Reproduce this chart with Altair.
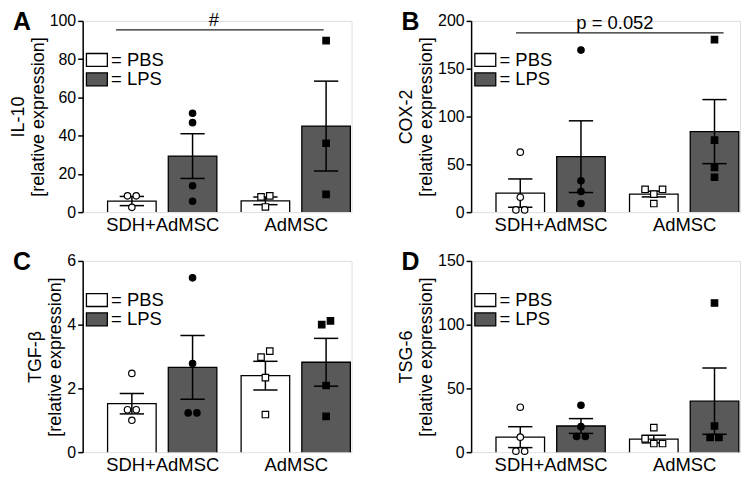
import altair as alt
import pandas as pd

FONT = "Liberation Sans"

# ---------------- data ----------------
groups = ["SDH+AdMSC", "AdMSC"]
treatments = ["PBS", "LPS"]
panel_ids = ["A", "B", "C", "D"]
genes = ["IL-10", "COX-2", "TGF-β", "TSG-6"]
y_max = [100, 200, 6, 150]
y_ticks = [[0, 20, 40, 60, 80, 100], [0, 50, 100, 150, 200], [0, 2, 4, 6], [0, 50, 100, 150]]

# bar order: SDH+AdMSC/PBS, SDH+AdMSC/LPS, AdMSC/PBS, AdMSC/LPS
means_A = [5.8, 29.3, 5.9, 45.0]
means_B = [19.9, 58.0, 18.9, 84.2]
means_C = [1.52, 2.66, 2.40, 2.82]
means_D = [11.75, 20.5, 10.25, 40.0]

sem_A = [2.4, 11.7, 2.0, 23.5]
sem_B = [14.8, 37.5, 3.0, 33.5]
sem_C = [0.32, 1.0, 0.45, 0.75]
sem_D = [8.2, 5.8, 3.0, 26.0]

pts_A = [[8.5, 8.5, 2.5], [51.7, 46.8, 13.8, 5.7], [8.5, 8.0, 2.7], [89.7, 36.0, 9.3]]
pts_B = [[62.7, 15.6, 2.3, 2.3], [169.5, 32.8, 21.6, 9.0], [23.9, 23.9, 18.9, 9.0], [180.4, 75.3, 46.8, 36.5]]
pts_C = [[2.47, 1.33, 1.33, 1.0], [5.47, 2.78, 1.23, 1.23], [3.17, 2.98, 2.34, 1.18], [4.12, 4.0, 2.09, 1.12]]
pts_D = [[35.25, 11.75, 0.75, 0.75], [36.75, 20.0, 12.25, 12.25], [19.25, 10.5, 6.75, 6.75], [117.0, 20.5, 11.5, 11.5]]

means = [means_A, means_B, means_C, means_D]
sems = [sem_A, sem_B, sem_C, sem_D]
points = [pts_A, pts_B, pts_C, pts_D]

sig_label = {"A": "#", "B": "p = 0.052"}
sig_level = {"A": 95.3, "B": 187.4}
sig_span = {"A": (-0.26, 3.16), "B": (-0.07, 3.35)}
sig_text_x = {"A": 1.35, "B": 1.56}

# ---------------- layout ----------------
W, H = 270, 192
slot = [0.0, 1.0, 2.2, 3.2]          # bar centres in x units
group_centre = [0.5, 2.7]
x_domain = [-0.81, 3.62]
BAR_HALF = 0.4
CAP_HALF = 0.2
JIT = 0.144


def jitter(vals, ymax):
    px = [v / ymax * H for v in vals]
    order = sorted(range(len(vals)), key=lambda i: -vals[i])
    clusters = []
    for i in order:
        if clusters and abs(px[clusters[-1][-1]] - px[i]) < 7.5:
            clusters[-1].append(i)
        else:
            clusters.append([i])
    off = [0.0] * len(vals)
    for c in clusters:
        n = len(c)
        if n == 2:
            pat = [0.5, -0.5]
        elif n == 3:
            pat = [-1, 1, 0]
        else:
            pat = [k - (n - 1) / 2 for k in range(n)]
        for i, p in zip(c, pat):
            off[i] = p * JIT
    return off


label_expr = "datum.value < 1.6 ? '%s' : '%s'" % (groups[0], groups[1])


def panel(idx):
    pid = panel_ids[idx]
    ymax = y_max[idx]
    rows = []
    prow = []
    for b in range(4):
        g = groups[b // 2]
        t = treatments[b % 2]
        m = means[idx][b]
        s = sems[idx][b]
        p = slot[b]
        rows.append(dict(group=g, treatment=t, pos=p, left=p - BAR_HALF, right=p + BAR_HALF,
                         mean=m, lo=m - s, hi=m + s, capl=p - CAP_HALF, capr=p + CAP_HALF))
        vals = points[idx][b]
        offs = jitter(vals, ymax)
        for v, o in zip(vals, offs):
            prow.append(dict(group=g, treatment=t, px=p + o, value=v))
    df = pd.DataFrame(rows)
    pdf = pd.DataFrame(prow)

    xs = alt.Scale(domain=x_domain, nice=False, zero=False)
    ys = alt.Scale(domain=[0, ymax], nice=False, zero=False)
    xaxis = alt.Axis(values=group_centre, labelExpr=label_expr, title=None, domain=False,
                     ticks=False, grid=False, labelFontSize=18.5, labelPadding=3,
                     labelColor="black", labelFont=FONT, labelOverlap=False, labelFlush=False)
    yaxis = alt.Axis(values=y_ticks[idx], title=[genes[idx], "[relative expression]"],
                     grid=False, domainColor="black", domainWidth=1.5, tickColor="black",
                     tickWidth=1.5, tickSize=5, labelFontSize=16, labelColor="black",
                     labelFont=FONT, labelPadding=2, titleFont=FONT, titleFontSize=18,
                     titleFontWeight="normal", titleColor="black", titlePadding=2,
                     titleLineHeight=20, labelFlush=False)

    base = alt.Chart(df)
    bars = base.mark_bar(stroke="black", strokeWidth=1.3, clip=True).encode(
        x=alt.X("left:Q", scale=xs, axis=xaxis),
        x2="right:Q",
        y=alt.Y("mean:Q", scale=ys, axis=yaxis),
        y2=alt.datum(-0.03 * ymax),
        fill=alt.Fill("treatment:N", scale=alt.Scale(domain=treatments, range=["white", "#595959"]),
                      legend=alt.Legend(orient="none", legendX=5, legendY=30, title=None,
                                        symbolType="M-1.615,-1H1.615V1H-1.615Z", symbolSize=169,
                                        symbolStrokeColor="black", symbolStrokeWidth=1.3,
                                        symbolOpacity=1, labelFontSize=18.5, labelFont=FONT,
                                        labelColor="black", labelExpr="'= ' + datum.label",
                                        labelOffset=5, rowPadding=0.5, padding=0,
                                        direction="vertical")),
    )
    err = base.mark_rule(color="black", strokeWidth=1.5).encode(
        x=alt.X("pos:Q", scale=xs, axis=xaxis),
        y=alt.Y("lo:Q", scale=ys, axis=yaxis),
        y2="hi:Q",
    )
    cap_hi = base.mark_rule(color="black", strokeWidth=1.5).encode(
        x=alt.X("capl:Q", scale=xs, axis=xaxis), x2="capr:Q",
        y=alt.Y("hi:Q", scale=ys, axis=yaxis),
    )
    cap_lo = base.mark_rule(color="black", strokeWidth=1.5).encode(
        x=alt.X("capl:Q", scale=xs, axis=xaxis), x2="capr:Q",
        y=alt.Y("lo:Q", scale=ys, axis=yaxis),
    )
    pts = alt.Chart(pdf).mark_point(filled=True, stroke="black", strokeWidth=1.2, size=42,
                                    opacity=1).encode(
        x=alt.X("px:Q", scale=xs, axis=xaxis),
        y=alt.Y("value:Q", scale=ys, axis=yaxis),
        color=alt.Color("treatment:N", scale=alt.Scale(domain=treatments, range=["white", "black"]),
                        legend=None),
        shape=alt.Shape("group:N", scale=alt.Scale(domain=groups, range=["circle", "square"]),
                        legend=None),
    )
    letter = alt.Chart(pd.DataFrame({"letter": [pid]})).mark_text(
        align="left", baseline="top", fontSize=25, fontWeight="bold", font=FONT,
        color="black"
    ).encode(x=alt.value(-70), y=alt.value(-11), text="letter:N")

    layers = [bars, err, cap_hi, cap_lo, pts, letter]
    if pid in sig_label:
        sdf = pd.DataFrame({"x1": [sig_span[pid][0]], "x2": [sig_span[pid][1]],
                            "y": [sig_level[pid]], "tx": [sig_text_x[pid]],
                            "label": [sig_label[pid]]})
        sline = alt.Chart(sdf).mark_rule(color="#222222", strokeWidth=1.3).encode(
            x=alt.X("x1:Q", scale=xs, axis=xaxis), x2="x2:Q",
            y=alt.Y("y:Q", scale=ys, axis=yaxis))
        stext = alt.Chart(sdf).mark_text(baseline="alphabetic", dy=-4, fontSize=18.5, font=FONT,
                                         color="black").encode(
            x=alt.X("tx:Q", scale=xs, axis=xaxis),
            y=alt.Y("y:Q", scale=ys, axis=yaxis), text="label:N")
        layers += [sline, stext]
    return alt.layer(*layers).properties(width=W, height=H)


chart = alt.concat(*[panel(i) for i in range(4)], columns=2,
                   spacing={"row": 15, "column": 44}).resolve_scale(
    fill="independent").properties(
    padding={"left": 0, "top": 0, "right": 0, "bottom": 0}).configure_view(
    stroke=None).configure(font=FONT)

chart.save("out.html", embed_options={"renderer": "svg", "actions": False})
